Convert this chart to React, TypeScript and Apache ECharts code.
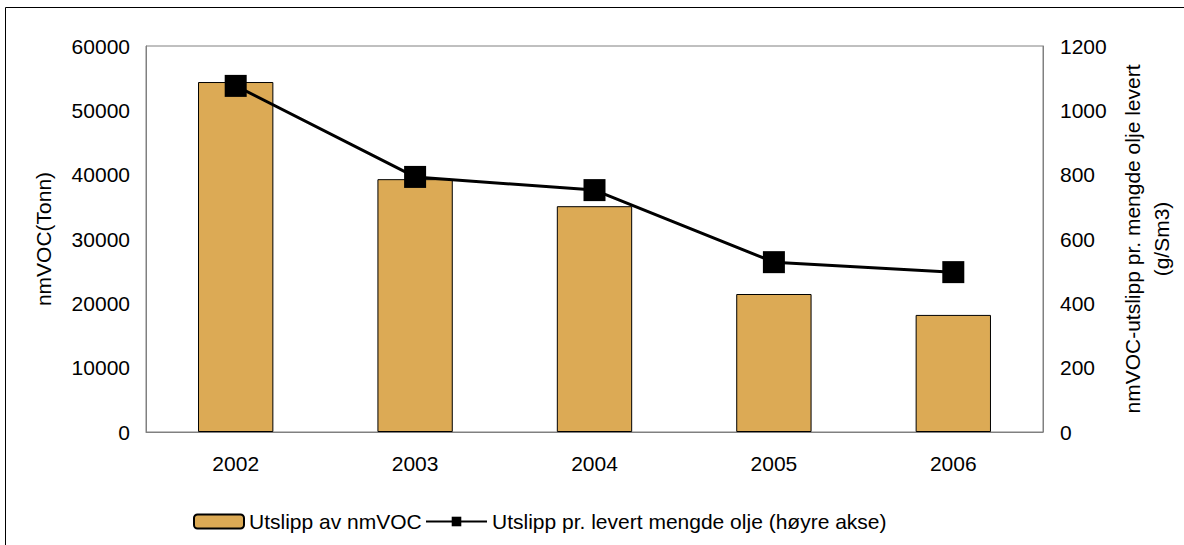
import React, { useEffect, useRef } from "react";
import * as echarts from "echarts";

const years = ["2002", "2003", "2004", "2005", "2006"];
const emissions = [54400, 39300, 35100, 21450, 18200];
const perOil = [1076, 793, 752, 528, 497];
const barName = "Utslipp av nmVOC";
const lineName = "Utslipp pr. levert mengde olje (høyre akse)";
const leftAxisName = "nmVOC(Tonn)";
const rightAxisName = "nmVOC-utslipp pr. mengde olje levert\n(g/Sm3)";

const FONT = "Liberation Sans, Arial, sans-serif";
const FS = 21;

export default function App() {
  const ref = useRef<HTMLDivElement>(null);
  useEffect(() => {
    document.body.style.margin = "0";
    const chart = echarts.init(ref.current!, null, { renderer: "svg" });
    const plain = (v: number) => String(v);
    chart.setOption({
      animation: false,
      backgroundColor: "#ffffff",
      textStyle: { fontFamily: FONT, color: "#000" },
      graphic: [
        {
          type: "rect",
          shape: { x: 5.5, y: 7.5, width: 1400, height: 800 },
          style: { fill: "none", stroke: "#000", lineWidth: 1 },
          silent: true,
        },
      ],
      grid: {
        left: 146,
        right: 134,
        top: 46,
        bottom: 113,
        show: true,
        borderColor: "#808080",
        borderWidth: 1,
      },
      legend: [
        {
          data: [barName],
          left: 193,
          top: 511,
          padding: 0,
          itemWidth: 50,
          itemHeight: 14,
          textStyle: { fontFamily: FONT, fontSize: FS, color: "#000" },
        },
        {
          data: [lineName],
          left: 425,
          top: 511,
          padding: 0,
          itemWidth: 61,
          itemHeight: 12,
          textStyle: { fontFamily: FONT, fontSize: FS, color: "#000" },
        },
      ],
      xAxis: {
        type: "category",
        data: years,
        axisLine: { lineStyle: { color: "#808080" } },
        axisTick: { show: false },
        axisLabel: { fontFamily: FONT, fontSize: FS, color: "#000", margin: 21 },
      },
      yAxis: [
        {
          type: "value",
          min: 0,
          max: 60000,
          interval: 10000,
          name: leftAxisName,
          nameLocation: "middle",
          nameGap: 92,
          nameRotate: 90,
          nameTextStyle: { fontFamily: FONT, fontSize: FS, color: "#000" },
          axisLine: { show: true, lineStyle: { color: "#808080" } },
          axisTick: { show: false },
          splitLine: { show: false },
          axisLabel: { fontFamily: FONT, fontSize: FS, color: "#000", margin: 16, formatter: plain },
        },
        {
          type: "value",
          min: 0,
          max: 1200,
          interval: 200,
          position: "right",
          name: rightAxisName,
          nameLocation: "middle",
          nameGap: 75,
          nameRotate: 90,
          nameTextStyle: { fontFamily: FONT, fontSize: FS, color: "#000", lineHeight: 29 },
          axisLine: { show: true, lineStyle: { color: "#808080" } },
          axisTick: { show: false },
          splitLine: { show: false },
          axisLabel: { fontFamily: FONT, fontSize: FS, color: "#000", margin: 17, formatter: plain },
        },
      ],
      series: [
        {
          name: barName,
          type: "bar",
          data: emissions,
          yAxisIndex: 0,
          barCategoryGap: "58%",
          itemStyle: { color: "#DCAA55", borderColor: "#000", borderWidth: 1 },
        },
        {
          name: lineName,
          type: "line",
          data: perOil,
          yAxisIndex: 1,
          symbol: "rect",
          symbolSize: 22,
          lineStyle: { color: "#000", width: 3 },
          itemStyle: { color: "#000" },
        },
      ],
    });
    return () => chart.dispose();
  }, []);
  return (
    <div
      ref={ref}
      style={{ position: "absolute", left: 0, top: 0, width: 1184, height: 545 }}
    />
  );
}
